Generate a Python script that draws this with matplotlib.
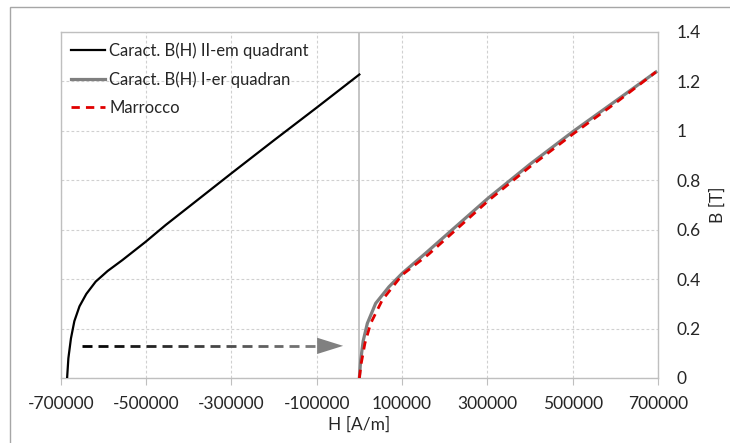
import numpy as np
import matplotlib
matplotlib.use("Agg")
import matplotlib.pyplot as plt
from matplotlib.collections import LineCollection
from matplotlib.patches import Rectangle
from matplotlib.colors import to_rgb

plt.rcParams['font.family'] = ['Lato', 'DejaVu Sans']

# B(H) curve, second quadrant (black)
h_q2 = [-685000, -682000, -676000, -668000, -656000, -640000, -618000, -590000,
        -555500, -501000, -454000, -399400, -300000, -200000, -100000, 0]
b_q2 = [0.0, 0.08, 0.16, 0.23, 0.29, 0.34, 0.39, 0.433,
        0.477, 0.551, 0.619, 0.693, 0.828, 0.962, 1.094, 1.228]

# B(H) curve, first quadrant (grey)
h_q1 = [0, 3000, 9000, 18700, 38200, 69400, 100800, 155400, 225700,
        301400, 400000, 500600, 600000, 695000]
b_q1 = [0.0, 0.07, 0.15, 0.221, 0.302, 0.369, 0.424, 0.505, 0.612,
        0.727, 0.865, 0.997, 1.12, 1.238]

# Marrocco model (red dashed)
h_mar = [0, 4500, 13000, 26500, 53900, 100800, 162000, 304000, 400000, 500600, 600000, 695000]
b_mar = [0.0, 0.06, 0.14, 0.221, 0.316, 0.418, 0.500, 0.720, 0.855, 0.987, 1.112, 1.238]

x_ticks = [-700000, -500000, -300000, -100000, 100000, 300000, 500000, 700000]
y_ticks = [0, 0.2, 0.4, 0.6, 0.8, 1.0, 1.2, 1.4]

# shift arrow (II quadrant -> I quadrant)
arrow_y = 0.13
arrow_x0, arrow_x1 = -650000, -38000
head_len, head_h = 61000, 0.033

fig = plt.figure(figsize=(7.3, 4.43), dpi=100)
W, H = 730, 443
ax = fig.add_axes([60.7 / W, 65 / H, 597.3 / W, 346 / H])

# outer chart border
fig.patches.append(Rectangle((10 / W, -0.1), 1.2, 1.1 - 7 / H,
                             transform=fig.transFigure, fill=False,
                             edgecolor='#a6a6a6', lw=1.0, zorder=0))

ax.plot(h_q2, b_q2, color='black', lw=1.6, label='Caract. B(H) II-em quadrant', zorder=4)
ax.plot(h_q1, b_q1, color='#7f7f7f', lw=2.3, label='Caract. B(H) I-er quadran', zorder=4)
ax.plot(h_mar, b_mar, color='#e00000', lw=2.0, ls=(0, (3.0, 2.2)), label='Marrocco', zorder=5)

# gradient dashed arrow
dash, gap = 23400, 14000
starts = np.arange(arrow_x0, arrow_x1 - head_len - dash * 0.5, dash + gap)
segs = [[(s, arrow_y), (min(s + dash, arrow_x1 - head_len), arrow_y)] for s in starts]
c0, c1 = np.array(to_rgb('#000000')), np.array(to_rgb('#808080'))
t = (starts - arrow_x0) / (arrow_x1 - head_len - arrow_x0)
cols = [tuple(c0 + (c1 - c0) * ti) for ti in t]
ax.add_collection(LineCollection(segs, colors=cols, lw=2.0, capstyle='butt', zorder=3))
ax.fill([arrow_x1 - head_len, arrow_x1, arrow_x1 - head_len],
        [arrow_y + head_h, arrow_y, arrow_y - head_h], color='#808080', lw=0, zorder=3)

ax.set_xlim(-700000, 700000)
ax.set_ylim(0, 1.4)
ax.set_xticks(x_ticks)
ax.set_xticklabels([str(v) for v in x_ticks])
ax.set_yticks(y_ticks)
ax.set_yticklabels([f"{v:g}" for v in y_ticks])
ax.yaxis.tick_right()
ax.yaxis.set_label_position('right')
ax.tick_params(axis='y', length=0, pad=13.5, labelsize=12.5, labelcolor='#262626')
ax.tick_params(axis='x', length=5, width=0.8, color='#bfbfbf', pad=8,
               labelsize=12.5, labelcolor='#262626')
for lab in ax.get_yticklabels():
    lab.set_horizontalalignment('left')

ax.grid(True, color='#d0d0d0', lw=0.8, ls=(0, (2.5, 2)))
ax.axvline(0, color='#bfbfbf', lw=1.3, zorder=2)
for sp in ax.spines.values():
    sp.set_color('#bfbfbf')
    sp.set_linewidth(1.0)

ax.set_xlabel('H [A/m]', fontsize=12.5, color='#262626', labelpad=3)
ax.set_ylabel('B [T]', fontsize=12.5, color='#262626', labelpad=6)

ax.legend(loc='upper left', bbox_to_anchor=(0.0, 1.0), frameon=False, fontsize=12,
          handlelength=2.05, handletextpad=0.25, labelspacing=0.75,
          borderaxespad=0.2, labelcolor='#262626')

fig.savefig('out.png', dpi=100)
